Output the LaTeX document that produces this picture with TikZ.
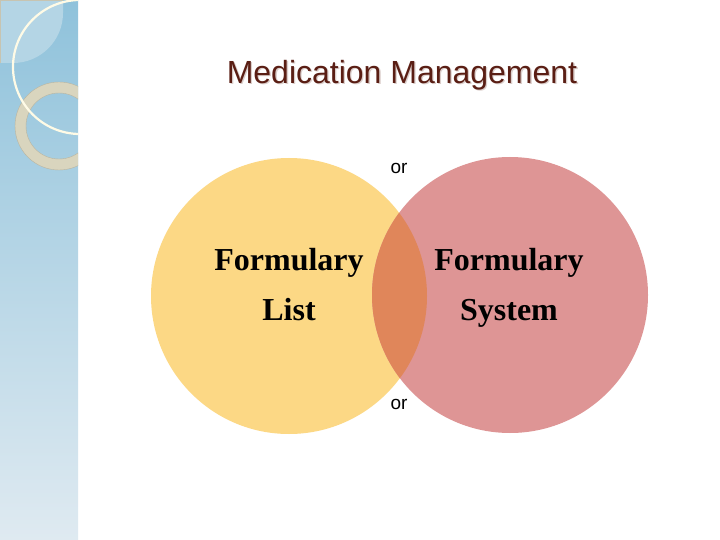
\documentclass[tikz,border=0pt]{standalone}
\usepackage{fontspec}
\setmainfont{Liberation Serif}
\newfontfamily\arialf{Liberation Sans}
\begin{document}
\begin{tikzpicture}[x=1pt,y=-1pt,
  lbl/.style={font=\fontsize{32}{38}\selectfont\bfseries, text=black, inner sep=0, anchor=base},
  ortext/.style={font=\arialf\fontsize{19}{22}\selectfont, text=black, inner sep=0}]
\definecolor{sideTop}{HTML}{8FC2DB}
\definecolor{sideBot}{HTML}{DFEAF1}
\definecolor{lightSq}{HTML}{B4D5E5}
\definecolor{ringC}{HTML}{D9D5BE}
\definecolor{creamC}{HTML}{FFFBE6}
\definecolor{yellowC}{HTML}{FCD885}
\definecolor{pinkC}{HTML}{DE9595}
\definecolor{overC}{HTML}{E0865A}
\definecolor{titleC}{HTML}{5A1E14}
\useasboundingbox (0,0) rectangle (720,540);
\fill[white] (0,0) rectangle (720,540);
% sidebar
\begin{scope}
  \clip (0,0) rectangle (78,540);
  \shade[top color=sideTop, bottom color=sideBot] (0,0) rectangle (78,540);
  \fill[lightSq] (0,0) -- (63,0) -- (63,13) arc[start angle=0, end angle=90, radius=50] -- (0,63) -- cycle;
  \draw[ringC!80!gray, line width=1.2] (0.6,63) -- (0.6,0.6) -- (63,0.6);
  \draw[ringC, line width=11] (59,126) circle (38.5);
  \draw[ringC!85!black, line width=0.4] (59,126) circle (44) (59,126) circle (33);
  \draw[creamC, line width=2.2] (80,67) circle (67);
\end{scope}
% title
\node[font=\arialf\fontsize{32}{36}\selectfont, text=titleC!22!white, inner sep=0] at (403.3,76.3) {Medication Management};
\node[font=\arialf\fontsize{32}{36}\selectfont, text=titleC, inner sep=0] (title) at (402,75) {Medication Management};
% circles
\node[circle, fill=yellowC, minimum size=276, inner sep=0] (L) at (289,296) {};
\node[circle, fill=pinkC, minimum size=276, inner sep=0] (R) at (510,295) {};
\begin{scope}
  \clip (289,296) circle (138);
  \fill[overC] (510,295) circle (138);
\end{scope}
% labels
\node[lbl] (l1) at (289,270) {Formulary};
\node[lbl] (l2) at (289,320) {List};
\node[lbl] (r1) at (509,270) {Formulary};
\node[lbl] (r2) at (509,320) {System};
\node[ortext] (or1) at (399,168) {or};
\node[ortext] (or2) at (399,404) {or};
\end{tikzpicture}
\end{document}
